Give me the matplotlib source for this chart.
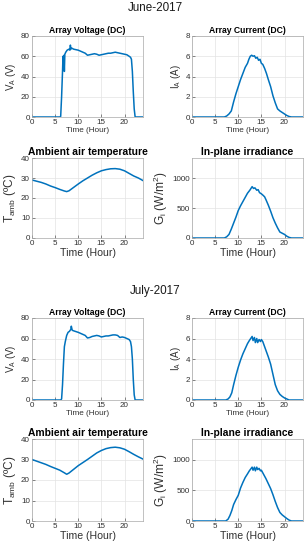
import matplotlib
matplotlib.use('Agg')
import matplotlib.pyplot as plt
import numpy as np

plt.rcParams['font.family'] = ['Liberation Sans', 'DejaVu Sans']
plt.rcParams['mathtext.fontset'] = 'custom'
plt.rcParams['mathtext.rm'] = 'Liberation Sans'
plt.rcParams['mathtext.it'] = 'Liberation Sans:italic'

# ---- June-2017 ----
jun_v_t = [0, 6.0, 6.2, 6.4, 6.6, 6.7, 6.8, 6.9, 7.0, 7.1, 7.3, 7.6, 8.0, 8.2, 8.3, 8.4, 8.6, 9, 10, 11, 11.5, 12, 12.5, 13,
           13.5, 14, 14.5, 15, 15.5, 16, 16.5, 17, 17.5, 18, 18.5, 19, 19.5, 20, 20.5, 21, 21.3, 21.5, 21.7, 21.9, 22.1, 22.3, 24]
jun_v = [0, 0, 0.5, 20, 45, 60, 48, 61, 45, 62, 64, 66, 67, 66, 71, 67, 68, 67, 66, 64, 63, 61, 61.5, 62, 62.5, 62, 61, 61.5, 62,
         62.5, 63, 63, 63.5, 64, 63.5, 63, 62.5, 62, 61.5, 60, 59, 57, 45, 25, 8, 0, 0]

jun_i_t = [0, 7.0, 7.5, 8.0, 8.5, 9.0, 9.5, 10.0, 10.5, 11.0, 11.5, 12.0, 12.3, 12.6, 12.9, 13.2, 13.5, 13.8, 14.1, 14.4, 14.7,
           15.0, 15.3, 15.7, 16.1, 16.5, 17.0, 17.5, 18.0, 18.5, 19.0, 19.5, 20.0, 20.5, 21.0, 21.5, 24]
jun_i = [0, 0, 0.1, 0.3, 0.6, 1.5, 2.3, 3.0, 3.7, 4.3, 4.9, 5.3, 5.7, 6.0, 6.1, 6.0, 6.05, 5.8, 5.9, 5.6, 5.7, 5.3, 5.2, 4.8, 4.3,
         3.7, 3.0, 2.1, 1.4, 0.8, 0.6, 0.45, 0.3, 0.15, 0.05, 0, 0]

jun_tmp_t = [0, 1, 2, 3, 4, 5, 6, 7, 7.5, 8, 9, 10, 11, 12, 13, 14, 15, 16, 17, 18, 19, 20, 21, 22, 23, 24]
jun_tmp = [29, 28.4, 27.8, 27, 26, 25.2, 24.3, 23.5, 23.2, 23.6, 25.3, 27, 28.6, 30, 31.4, 32.6, 33.6, 34.2, 34.6, 34.7, 34.4,
           33.6, 32.3, 31, 30, 28.7]

jun_g_t = [0, 7.0, 7.5, 8.0, 8.5, 9.0, 9.5, 10.0, 10.5, 11.0, 11.5, 12.0, 12.5, 13.0, 13.3, 13.6, 14.0, 14.3, 14.6, 15.0, 15.3,
           15.7, 16.0, 16.5, 17.0, 17.5, 18.0, 18.5, 19.0, 19.5, 20.0, 20.5, 21.0, 21.5, 24]
jun_g = [0, 0, 20, 60, 150, 250, 350, 460, 540, 610, 680, 750, 800, 860, 830, 840, 800, 810, 760, 740, 720, 690, 640, 550, 450,
         340, 250, 170, 100, 80, 60, 30, 10, 0, 0]

# ---- July-2017 ----
jul_v_t = [0, 6.2, 6.4, 6.6, 6.8, 7.0, 7.2, 7.5, 7.8, 8.1, 8.4, 8.5, 8.7, 9, 10, 11, 11.5, 12, 12.5, 13, 13.5, 14, 14.5, 15,
           15.5, 16, 16.5, 17, 17.5, 18, 18.5, 19, 19.5, 20, 20.5, 21, 21.3, 21.5, 21.7, 21.9, 22.1, 22.3, 24]
jul_v = [0, 0, 1, 15, 35, 52, 57, 63, 66, 67, 69, 72, 68, 67.5, 66, 64, 63, 60.5, 61, 62, 62.5, 63, 62.5, 61.5, 62, 62.5, 62.5,
         63, 63.5, 63.5, 63, 61, 61.5, 61, 60, 59, 57, 52, 40, 20, 5, 0, 0]

jul_i_t = [0, 7.3, 7.8, 8.2, 8.6, 9.0, 9.5, 10.0, 10.5, 11.0, 11.5, 12.0, 12.4, 12.7, 13.0, 13.2, 13.5, 13.7, 14.0, 14.2, 14.5,
           14.8, 15.0, 15.3, 15.7, 16.1, 16.5, 17.0, 17.5, 18.0, 18.5, 19.0, 19.5, 20.0, 20.5, 21.0, 24]
jul_i = [0, 0, 0.1, 0.3, 0.7, 1.5, 2.4, 3.2, 3.9, 4.5, 5.0, 5.5, 5.8, 6.0, 6.2, 5.8, 6.1, 5.6, 6.0, 5.6, 5.9, 5.7, 5.9, 5.7, 5.2,
         4.7, 4.2, 3.5, 2.5, 1.5, 0.9, 0.55, 0.35, 0.2, 0.1, 0, 0]

jul_tmp_t = [0, 1, 2, 3, 4, 5, 6, 7, 7.5, 8, 9, 10, 11, 12, 13, 14, 15, 16, 17, 18, 19, 20, 21, 22, 23, 24]
jul_tmp = [30, 29.2, 28.4, 27.6, 26.6, 25.7, 24.8, 23.5, 22.8, 23.4, 25.2, 27, 28.5, 30, 31.6, 33.2, 34.4, 35.3, 35.8, 36, 35.7,
           35, 33.8, 32.5, 31.3, 30.2]

jul_g_t = [0, 7.3, 7.8, 8.2, 8.6, 9.0, 9.5, 10.0, 10.5, 11.0, 11.5, 12.0, 12.4, 12.7, 13.0, 13.2, 13.5, 13.7, 14.0, 14.2, 14.5,
           14.8, 15.0, 15.5, 16.0, 16.5, 17.0, 17.5, 18.0, 18.5, 19.0, 19.5, 20.0, 20.5, 21.0, 21.5, 24]
jul_g = [0, 0, 30, 90, 170, 270, 350, 420, 540, 630, 710, 770, 820, 850, 880, 830, 880, 820, 880, 840, 860, 820, 830, 760, 690,
         610, 530, 430, 320, 220, 140, 100, 70, 40, 15, 0, 0]

months = ['June-2017', 'July-2017']
panel_titles = ['Array Voltage (DC)', 'Array Current (DC)', 'Ambient air temperature', 'In-plane irradiance']
ylabels = [r'V$_\mathregular{A}$ (V)', r'I$_\mathregular{A}$ (A)', r'T$_\mathregular{amb}$ (ºC)', r'G$_\mathregular{i}$ (W/m$^\mathregular{2}$)']

data = [
    [(jun_v_t, jun_v), (jun_i_t, jun_i), (jun_tmp_t, jun_tmp), (jun_g_t, jun_g)],
    [(jul_v_t, jul_v), (jul_i_t, jul_i), (jul_tmp_t, jul_tmp), (jul_g_t, jul_g)],
]

ylims = [(0, 80), (0, 8), (0, 40), (0, 1340)]
yticks = [[0, 20, 40, 60, 80], [0, 2, 4, 6, 8], [0, 10, 20, 30, 40], [0, 500, 1000]]

blue = '#0072BD'
grey = '#303030'

fig = plt.figure(figsize=(3.07, 5.5), dpi=100)

# axes rectangles in figure fraction
W, H = 307, 550
left_px = [32, 192]
ax_w = 111
rows = [(36, 117), (158, 238), (318, 400), (439, 521)]
sup_y = [8, 291]

for m in range(2):
    fig.text(155 / W, 1 - sup_y[m] / H, months[m], ha='center', va='center', fontsize=8.4, color='#1a1a1a')
    for k in range(4):
        r = rows[2 * m + k // 2]
        ax = fig.add_axes([left_px[k % 2] / W, 1 - r[1] / H, ax_w / W, (r[1] - r[0]) / H])
        t, y = data[m][k]
        ax.plot(t, y, color=blue, lw=1.1)
        ax.set_xlim(0, 24)
        ax.set_ylim(*ylims[k])
        ax.set_xticks([0, 5, 10, 15, 20])
        ax.set_yticks(yticks[k])
        ax.grid(True, color='#e3e3e3', lw=0.5)
        ax.tick_params(direction='in', length=2, width=0.4, labelsize=5.8, colors=grey, pad=1.5)
        for s in ax.spines.values():
            s.set_color('#a8a8a8')
            s.set_linewidth(0.5)
        big = k >= 2
        ax.set_title(panel_titles[k], fontsize=7.4 if big else 6.2, fontweight='bold', pad=2, color='black')
        ax.set_xlabel('Time (Hour)', fontsize=7.6 if big else 5.9, color=grey, labelpad=1)
        ax.set_ylabel(ylabels[k], fontsize=8.6 if big else 7.0, color=grey, labelpad=2)

fig.savefig('out.png', dpi=100)
